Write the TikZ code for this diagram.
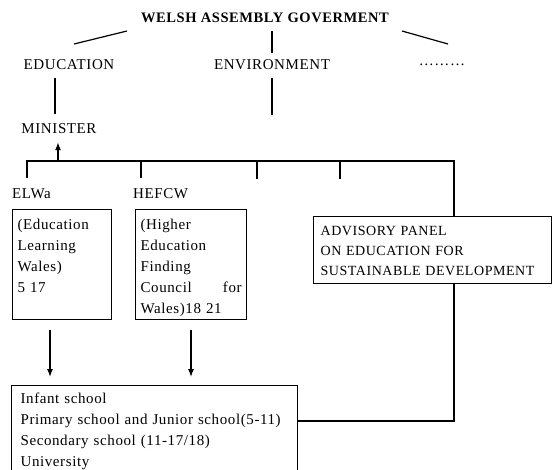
\documentclass[tikz,border=0pt]{standalone}
\usepackage{fontspec}
\setmainfont{Liberation Serif}[LetterSpace=4]
\usetikzlibrary{arrows.meta}

\tikzset{
  lbl/.style={font=\fontsize{15}{21}\selectfont, inner sep=2pt},
  infobox/.style={draw, line width=1.2pt, anchor=north west, align=left,
    font=\fontsize{15}{21}\selectfont, inner xsep=5pt, inner ysep=5pt},
  link/.style={line width=1.2pt},
  tip/.style={-{Latex[length=8pt,width=6pt]}},
}

\begin{document}
\begin{tikzpicture}[x=1pt,y=-1pt]
        \useasboundingbox (0,0) rectangle (552,469);

        % Government and departments
        \node[lbl, font=\fontsize{14.5}{21}\selectfont\bfseries] (wag) at (265,18) {WELSH ASSEMBLY GOVERMENT};
        \node[lbl] (edu) at (69,65) {EDUCATION};
        \node[lbl] (env) at (272,65) {ENVIRONMENT};
        \node[lbl] (more) at (442,65) {\ldots\ldots\ldots};
        \node[lbl] (min) at (59,129) {MINISTER};

        \coordinate (slashLa) at (127,31);
        \coordinate (slashLb) at (74,44);
        \coordinate (slashRa) at (402,31);
        \coordinate (slashRb) at (448,44);
        \draw[link] (slashLa) -- (slashLb);
        \draw[link] (slashRa) -- (slashRb);
        \draw[link, shorten <=6pt, shorten >=5pt] (wag.south -| env) -- (env.north);
        \draw[link, shorten <=6pt, shorten >=8pt] (edu.south -| 55,0) -- (min.north -| 55,0);
        \coordinate (envend) at (272,115);
        \draw[link, shorten <=6pt] (env.south) -- (envend);

        % Bodies under the minister
        \node[lbl, anchor=west] (elwa) at (10,194) {ELWa};
        \node[lbl, anchor=west] (hefcw) at (131,194) {HEFCW};
        \node[infobox, text width=89pt, text height=14.5pt, text depth=85.5pt] (elwabox) at (12,209)
            {(Education\\Learning\\Wales)\\5 17};
        \node[infobox, text width=101pt, text height=14.5pt, text depth=85.5pt] (hefcwbox) at (135,209)
            {(Higher\\Education\\Finding\\Council\hfill for\\Wales)18 21};
        \node[infobox, inner xsep=7pt, text width=224pt, text height=13.5pt, text depth=43.5pt,
            font=\fontsize{14}{20}\selectfont] (panel) at (313,216)
            {ADVISORY PANEL\\ON EDUCATION FOR\\SUSTAINABLE DEVELOPMENT};
        \node[infobox, inner xsep=9pt, text width=268pt, text height=12.5pt, text depth=64.5pt] (schools) at (11,385)
            {Infant school\\Primary school and Junior school(5-11)\\Secondary school (11-17/18)\\University};

        % Bus line
        \coordinate (busL) at (27,161);
        \coordinate (busR) at (454,161);
        \coordinate (minfoot) at (58,161);
        \coordinate (tickC) at (257,161);
        \coordinate (tickD) at (340,161);
        \draw[link, shorten <=9pt] (elwa.north -| busL) -- (busL) -- (busR) -- (panel.north -| busR);
        \draw[link, shorten >=9pt] (busL -| 141,0) -- (hefcw.north -| 141,0);
        \draw[link] (tickC) -- ++(0,18);
        \draw[link] (tickD) -- ++(0,18);
        \draw[link, tip, shorten >=6pt] (minfoot) -- (min.south -| minfoot);

        % Down to the schools
        \draw[link, tip, shorten <=10pt, shorten >=8pt] (elwabox.south -| 50,0) -- (schools.north -| 50,0);
        \draw[link, tip, shorten <=10pt, shorten >=8pt] (hefcwbox.south -| 191,0) -- (schools.north -| 191,0);
        \draw[link] (panel.south -| busR) |- (schools.east |- 0,421);
\end{tikzpicture}
\end{document}
